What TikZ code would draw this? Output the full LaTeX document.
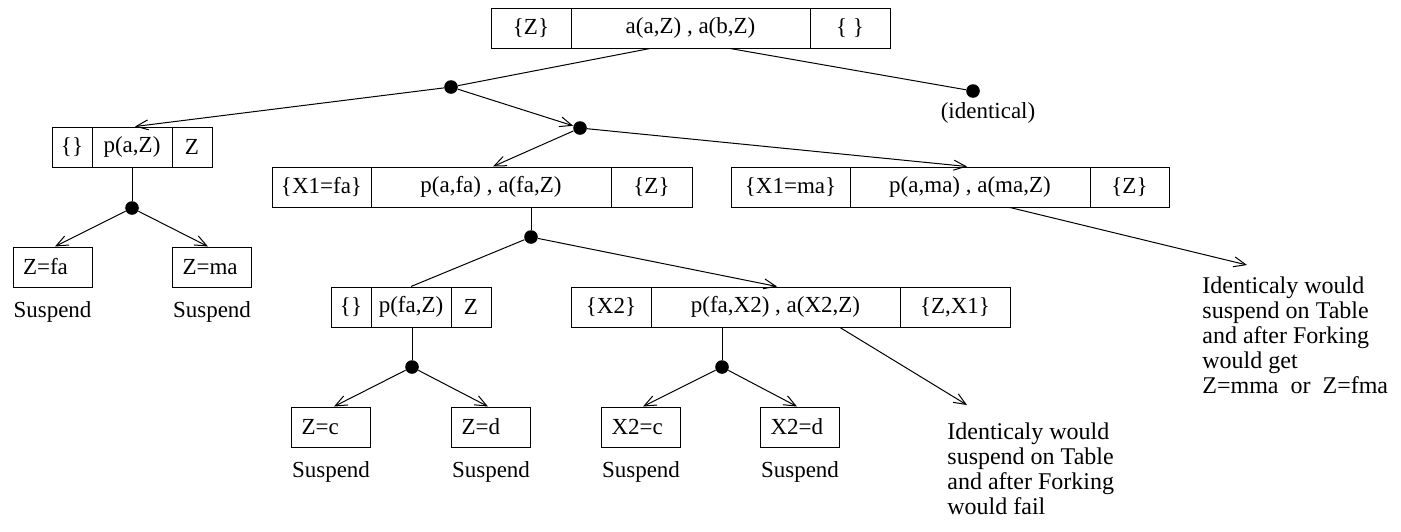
\documentclass[tikz,border=0pt]{standalone}
\usepackage{fontspec}
\setmainfont{Liberation Serif}
\usetikzlibrary{arrows.meta,calc}
\begin{document}
\begin{tikzpicture}[x=0.5pt,y=-0.5pt,
  txt/.style={font=\fontsize{11.5}{13}\selectfont},
  cell/.style={txt, draw, rectangle, minimum height=20pt, inner sep=0pt, line width=0.5pt},
  leaf/.style={txt, draw, rectangle, minimum height=20pt, inner xsep=5pt, inner ysep=0pt, text width=29.5pt, align=left, line width=0.5pt},
  dot/.style={circle, fill=black, inner sep=0pt, minimum size=6.8pt},
  edge/.style={line width=0.5pt},
  arr/.style={edge, -{Straight Barb[length=6pt,width=5pt,line width=0.5pt]}},
  lbl/.style={txt, inner sep=0pt, anchor=base},
  note/.style={font=\fontsize{12}{12.5}\selectfont, align=left, inner sep=0pt, anchor=north west}]
\useasboundingbox (0,0) rectangle (1401,531);

% top box
\node[cell, minimum width=40pt]    (t1) at (531,28)   {\{Z\}};
\node[cell, minimum width=119.5pt] (t2) at (690.5,28) {a(a,Z) , a(b,Z)};
\node[cell, minimum width=40pt]    (t3) at (850,28)   {\{ \}};

% dots
\node[dot] (D1) at (451,87) {};
\node[dot] (Did) at (973,91) {};
\node[txt, inner sep=0pt, anchor=north] (idl) at (988,102) {(identical)};
\node[dot] (D2) at (580,128) {};
\node[dot] (D3) at (132,208) {};
\node[dot] (D4) at (531,237) {};
\node[dot] (D5) at (412,367) {};
\node[dot] (D6) at (722,367) {};

% left box
\node[cell, minimum width=20pt] (l1) at (72,147)  {\{\}};
\node[cell, minimum width=40pt] (l2) at (132,147) {p(a,Z)};
\node[cell, minimum width=20pt] (l3) at (192,147) {Z};

% middle box
\node[cell, minimum width=49.5pt]  (m1) at (321.5,187) {\{X1=fa\}};
\node[cell, minimum width=120pt]   (m2) at (491,187)   {p(a,fa) , a(fa,Z)};
\node[cell, minimum width=40.5pt]  (m3) at (651.5,187) {\{Z\}};

% right box
\node[cell, minimum width=59.5pt]  (r1) at (790.5,187) {\{X1=ma\}};
\node[cell, minimum width=120pt]   (r2) at (970,187)   {p(a,ma) , a(ma,Z)};
\node[cell, minimum width=39.5pt]  (r3) at (1129.5,187) {\{Z\}};

% p box
\node[cell, minimum width=20pt] (p1) at (351,307) {\{\}};
\node[cell, minimum width=40pt] (p2) at (411,307) {p(fa,Z)};
\node[cell, minimum width=20pt] (p3) at (471,307) {Z};

% q box
\node[cell, minimum width=40pt]    (q1) at (611,307)   {\{X2\}};
\node[cell, minimum width=124.5pt] (q2) at (775.5,307) {p(fa,X2) , a(X2,Z)};
\node[cell, minimum width=55pt]    (q3) at (955,307)   {\{Z,X1\}};

% leaves
\node[leaf] (a1) at (52.5,267) {Z=fa};
\node[leaf] (a2) at (212,267)  {Z=ma};
\node[leaf] (c1) at (331,427)  {Z=c};
\node[leaf] (c2) at (491,427)  {Z=d};
\node[leaf] (c3) at (641,427)  {X2=c};
\node[leaf] (c4) at (800,427)  {X2=d};

\node[lbl] (s1) at ([yshift=-15pt]a1.south) {Suspend};
\node[lbl] (s2) at ([yshift=-15pt]a2.south) {Suspend};
\node[lbl] (s3) at ([yshift=-15pt]c1.south) {Suspend};
\node[lbl] (s4) at ([yshift=-15pt]c2.south) {Suspend};
\node[lbl] (s5) at ([yshift=-15pt]c3.south) {Suspend};
\node[lbl] (s6) at ([yshift=-15pt]c4.south) {Suspend};

% notes
\node[note] (n1) at (947,422) {Identicaly would\\suspend on Table\\and after Forking\\would fail};
\node[note] (n2) at (1202,276) {Identicaly would\\suspend on Table\\and after Forking\\would get\\Z=mma\ \ or\ \ Z=fma};

% connectors
\draw[edge] ([xshift=-20.25pt]t2.south) -- (D1);
\draw[edge] ([xshift=19.75pt]t2.south) -- (Did);
\draw[arr] (D1) -- ([xshift=1.5pt]l2.north);
\draw[arr] (D1) -- (D2);
\draw[arr] (D2) -- ([xshift=1pt]m2.north);
\draw[arr] (D2) -- ([xshift=-1.5pt]r2.north);
\draw[edge] (l2.south) -- (D3);
\draw[arr] (D3) -- ([xshift=1.25pt]a1.north);
\draw[arr] (D3) -- ([xshift=-2pt]a2.north);
\draw[edge] (m2.south -| D4) -- (D4);
\draw[edge] (D4) -- (p2.north);
\draw[arr] (D4) -- ([xshift=0.75pt]q2.north);
\draw[edge] (p2.south -| D5) -- (D5);
\draw[arr] (D5) -- ([xshift=1.5pt]c1.north);
\draw[arr] (D5) -- ([xshift=-1.5pt]c2.north);
\draw[edge] (q2.south -| D6) -- (D6);
\draw[arr] (D6) -- ([xshift=1pt]c3.north);
\draw[arr] (D6) -- ([xshift=-1.5pt]c4.north);
\draw[arr] ([xshift=32.25pt]q2.south) -- ([shift={(20,-17)}]n1.north west);
\draw[arr] ([xshift=20pt]r2.south) -- ([shift={(45,-11)}]n2.north west);
\end{tikzpicture}
\end{document}
